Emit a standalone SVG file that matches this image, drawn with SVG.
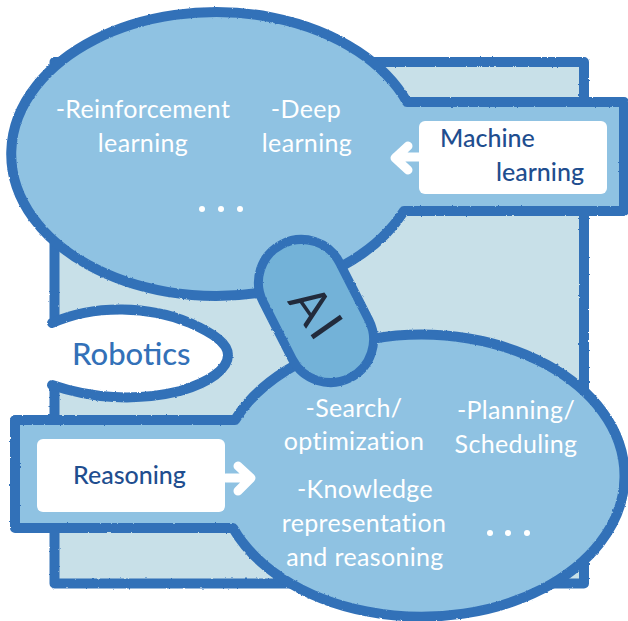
<svg xmlns="http://www.w3.org/2000/svg" width="628" height="621" viewBox="0 0 628 621">
<style>
.shape{stroke:#3371b8;stroke-width:10;stroke-linejoin:round;stroke-linecap:round}
.blob{fill:#8fc2e2}
.wt{font-family:"Lato","Liberation Sans",sans-serif;font-size:25px;fill:#fff;text-anchor:middle;letter-spacing:.35px}
.dk{font-family:"Lato","Liberation Sans",sans-serif;font-size:25px;fill:#1f4e8f;font-weight:500}
.dot{fill:#fff}
.arrow{fill:none;stroke:#fff;stroke-width:9;stroke-linecap:round;stroke-linejoin:round}
</style>
<defs>
<filter id="rough" x="-5%" y="-5%" width="110%" height="110%">
<feTurbulence type="fractalNoise" baseFrequency="0.35" numOctaves="2" seed="4"/>
<feDisplacementMap in="SourceGraphic" scale="2.2" xChannelSelector="R" yChannelSelector="G"/>
</filter>
</defs>
<rect width="628" height="621" fill="#fff"/>
<g id="canvas" filter="url(#rough)">
<rect x="54.500" y="62" width="529.500" height="521.500" fill="#c8e0e8" class="shape"/>
<g id="robotics-shape"><path d="M0,322 L54,322 L54,385 L0,385 Z" fill="#fff"/>
<path d="M52,323 C95,304 150,306 190,323 C215,334 228,344 228,355 C228,369 210,382 180,391 C135,402 90,398 52,385" fill="#fff" class="shape"/></g>
<rect x="0" y="329" width="50" height="50" fill="#fff"/>
<g id="top-blob"><path d="M624,102 L407,102 A205,142 0 1 0 404,211 L624,211 Z" class="shape blob"/></g>
<g id="bottom-blob"><path d="M15,420 L235,420 A203,141 0 1 1 233,528 L15,528 Z" class="shape blob"/></g>
<g id="ai-shape"><rect x="273" y="236" width="86" height="150" rx="43" transform="rotate(-27 316 311)" fill="#73b2d8" stroke="#3371b8" stroke-width="9"/></g>
</g>
<g id="connectors">
<path class="arrow" d="M420,157 H396 M408,146 L395,158 L408,170"/>
<path class="arrow" d="M226,478 H250 M238,466 L251,478 L238,491"/>
</g>
<g id="machine-learning"><rect x="419" y="121" width="188" height="73" rx="6" fill="#fff"/>
<text class="dk" x="440" y="147">Machine</text><text class="dk" x="496" y="181">learning</text></g>
<g id="reasoning"><rect x="37" y="439" width="188" height="73" rx="6" fill="#fff"/>
<text class="dk" x="73" y="484">Reasoning</text></g>
<g id="robotics"><text x="72" y="365" font-family="Lato,'Liberation Sans',sans-serif" font-size="31" fill="#3371b8" font-weight="500">Robotics</text></g>
<g id="ai"><text x="317" y="331" font-family="Lato,'Liberation Sans',sans-serif" font-size="50" fill="#222b3c" text-anchor="middle" letter-spacing="3" transform="rotate(55 317 313)">AI</text></g>
<g id="ml-items">
<text class="wt" x="143" y="118">-Reinforcement</text><text class="wt" x="143" y="152">learning</text>
<text class="wt" x="306" y="118">-Deep</text><text class="wt" x="307" y="152">learning</text>
<circle class="dot" cx="202" cy="209" r="3"/><circle class="dot" cx="221" cy="209" r="3"/><circle class="dot" cx="240" cy="209" r="3"/>
</g>
<g id="reasoning-items">
<text class="wt" x="354" y="417">-Search/</text><text class="wt" x="354" y="450">optimization</text>
<text class="wt" x="516" y="419">-Planning/</text><text class="wt" x="516" y="453">Scheduling</text>
<text class="wt" x="365" y="498">-Knowledge</text><text class="wt" x="364" y="532">representation</text><text class="wt" x="365" y="566">and reasoning</text>
<circle class="dot" cx="490" cy="533" r="3"/><circle class="dot" cx="508" cy="533" r="3"/><circle class="dot" cx="527" cy="533" r="3"/>
</g>
</svg>
